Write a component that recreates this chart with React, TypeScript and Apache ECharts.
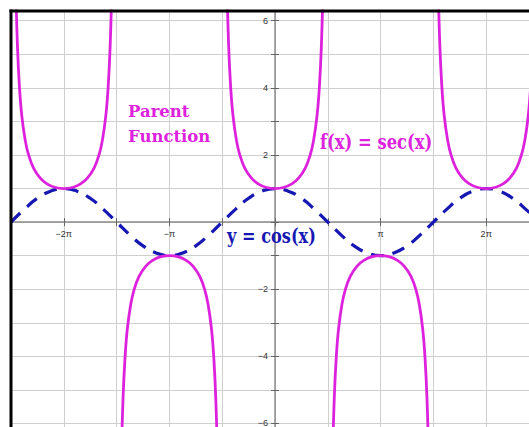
import React, { useEffect, useRef } from "react";
import * as echarts from "echarts";

const PI = Math.PI;

// x axis: gridlines every π/2, left edge at -5·π/2
const xMinHalfPi = -5;
const xMaxHalfPi = 4.81;
const xTickLabels: Record<string, string> = { "-4": "−2π", "-2": "−π", "2": "π", "4": "2π" };

// y axis
const yMin = -7;
const yMax = 6.29;
const yTickLabels: Record<string, string> = { "-6": "−6", "-4": "−4", "-2": "−2", "2": "2", "4": "4", "6": "6" };

// y = cos(x) read at x = k·π/8, k = -20 … 20
const cosValues = [
  0, 0.38, 0.71, 0.92, 1, 0.92, 0.71, 0.38, 0, -0.38, -0.71, -0.92, -1, -0.92, -0.71, -0.38,
  0, 0.38, 0.71, 0.92, 1, 0.92, 0.71, 0.38, 0, -0.38, -0.71, -0.92, -1, -0.92, -0.71, -0.38,
  0, 0.38, 0.71, 0.92, 1, 0.92, 0.71, 0.38, 0,
];

// one half of a sec(x) branch: distance from branch centre (rad) and |f(x)|
const secOffsets = [0, 0.25, 0.5, 0.7, 0.9, 1.05, 1.15, 1.25, 1.32, 1.38, 1.43, 1.48];
const secValues = [1, 1.03, 1.14, 1.31, 1.61, 2.01, 2.45, 3.17, 4.03, 5.27, 7.13, 11.03];
const branchCentersPi = [-2, -1, 0, 1, 2];
const branchSigns = [1, -1, 1, -1, 1];

const MAGENTA = "#dd22dd";
const BLUE = "#1717b3";

const W = 529;
const H = 427;
const GRID = { left: 11, top: 11, right: 0, bottom: -30 };

export default function App() {
  const ref = useRef<HTMLDivElement>(null);

  useEffect(() => {
    if (!ref.current) return;
    const chart = echarts.init(ref.current, null, { renderer: "svg" });

    const xMin = xMinHalfPi * (PI / 2);
    const xMax = xMaxHalfPi * (PI / 2);
    const gridW = W - GRID.left - GRID.right;
    const gridH = H - GRID.top - GRID.bottom;
    // move the axes from the grid edges onto the origin
    const yAxisOffset = -((0 - xMin) / (xMax - xMin)) * gridW;
    const xAxisOffset = -((0 - yMin) / (yMax - yMin)) * gridH;

    const cosData = cosValues.map((v, i) => [((i - 20) * PI) / 8, v]);

    const secSeries = branchCentersPi.map((c, bi) => {
      const data: number[][] = [];
      for (let i = secOffsets.length - 1; i > 0; i--) data.push([c * PI - secOffsets[i], branchSigns[bi] * secValues[i]]);
      for (let i = 0; i < secOffsets.length; i++) data.push([c * PI + secOffsets[i], branchSigns[bi] * secValues[i]]);
      return {
        type: "line",
        data,
        xAxisIndex: 0,
        yAxisIndex: 0,
        showSymbol: false,
        symbol: "none",
        smooth: 0.35,
        clip: true,
        lineStyle: { color: MAGENTA, width: 2.8 },
        z: 4,
      };
    });

    const isMultiple = (v: number, step: number) => Math.abs(v / step - Math.round(v / step)) < 1e-6;

    const xBase = { type: "value", min: xMin, max: xMax, interval: PI / 2, position: "bottom", offset: xAxisOffset };
    const yBase = { type: "value", min: yMin, max: yMax, interval: 1, position: "left", offset: yAxisOffset };
    const tickStyle = { color: "#666", width: 1 };

    chart.setOption({
      animation: false,
      grid: { ...GRID, containLabel: false, outerBoundsMode: "none" },
      xAxis: [
        {
          ...xBase,
          axisLine: { onZero: false, lineStyle: { color: "#8c8c8c", width: 1.5 } },
          axisTick: { show: true, length: 4, lineStyle: tickStyle },
          axisLabel: {
            margin: 7,
            fontSize: 9,
            color: "#333",
            fontFamily: "Liberation Sans",
            formatter: (v: number) => {
              if (!isMultiple(v, PI / 2)) return "";
              return xTickLabels[String(Math.round(v / (PI / 2)))] || "";
            },
          },
          splitLine: { show: true, lineStyle: { color: "#cfcfcf", width: 1 } },
        },
        {
          ...xBase,
          axisLine: { show: false, onZero: false },
          axisTick: { show: true, inside: true, length: 4, lineStyle: tickStyle },
          axisLabel: { show: false },
          splitLine: { show: false },
        },
      ],
      yAxis: [
        {
          ...yBase,
          axisLine: { onZero: false, lineStyle: { color: "#8c8c8c", width: 1.5 } },
          axisTick: { show: true, length: 4, lineStyle: tickStyle },
          axisLabel: {
            margin: 7,
            fontSize: 9,
            color: "#333",
            fontFamily: "Liberation Sans",
            formatter: (v: number) => {
              if (!isMultiple(v, 1)) return "";
              return yTickLabels[String(Math.round(v))] || "";
            },
          },
          splitLine: { show: true, lineStyle: { color: "#cfcfcf", width: 1 } },
        },
        {
          ...yBase,
          axisLine: { show: false, onZero: false },
          axisTick: { show: true, inside: true, length: 4, lineStyle: tickStyle },
          axisLabel: { show: false },
          splitLine: { show: false },
        },
      ],
      series: [
        {
          type: "line",
          data: cosData,
          xAxisIndex: 0,
          yAxisIndex: 0,
          showSymbol: false,
          symbol: "none",
          smooth: 0.5,
          clip: true,
          lineStyle: { color: BLUE, width: 3.2, type: [13, 9] },
          z: 3,
        },
        ...secSeries,
      ],
      graphic: [
        {
          type: "text",
          x: 128,
          y: 111,
          z: 20,
          style: { text: "Parent", fill: MAGENTA, fontSize: 16.5, fontWeight: "bold", fontFamily: "DejaVu Serif", verticalAlign: "middle", align: "left" },
        },
        {
          type: "text",
          x: 128,
          y: 136,
          z: 20,
          style: { text: "Function", fill: MAGENTA, fontSize: 16.5, fontWeight: "bold", fontFamily: "DejaVu Serif", verticalAlign: "middle", align: "left" },
        },
        {
          type: "text",
          x: 320,
          y: 141.5,
          scaleX: 0.78,
          z: 20,
          style: { text: "f(x) = sec(x)", fill: MAGENTA, fontSize: 21, fontWeight: "bold", fontFamily: "DejaVu Serif", verticalAlign: "middle", align: "left" },
        },
        {
          type: "text",
          x: 227,
          y: 235.5,
          scaleX: 0.77,
          z: 20,
          style: { text: "y = cos(x)", fill: BLUE, fontSize: 21, fontWeight: "bold", fontFamily: "DejaVu Serif", verticalAlign: "middle", align: "left" },
        },
        {
          type: "line",
          z: 30,
          shape: { x1: 9.5, y1: 11, x2: W, y2: 11 },
          style: { stroke: "#000", lineWidth: 3 },
        },
        {
          type: "line",
          z: 30,
          shape: { x1: 11, y1: 9.5, x2: 11, y2: H },
          style: { stroke: "#000", lineWidth: 3 },
        },
      ],
    });

    return () => chart.dispose();
  }, []);

  return (
    <div
      ref={ref}
      style={{ position: "absolute", left: 0, top: 0, width: W, height: H, overflow: "hidden", background: "#fff" }}
    />
  );
}
